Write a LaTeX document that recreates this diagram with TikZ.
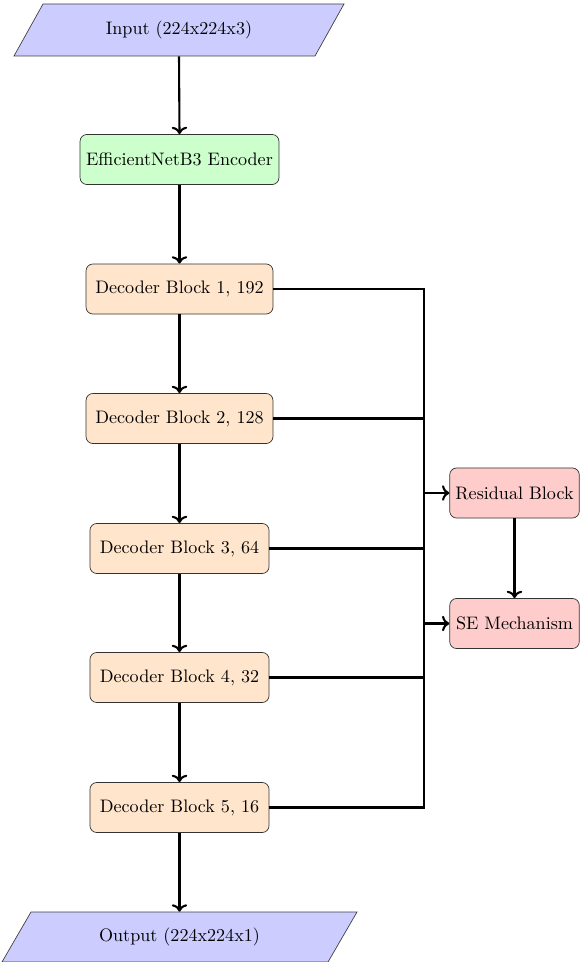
\documentclass[tikz,border=0pt]{standalone}
\usetikzlibrary{arrows.meta}
\begin{document}
\begin{tikzpicture}[x=0.575pt,y=-0.575pt,
  every node/.style={font=\fontsize{10.4}{12.5}\selectfont},
  box/.style={draw=black!80, line width=0.4pt, rounded corners=4pt, minimum height=28.8pt, inner xsep=2pt},
  encbox/.style={box, fill=green!20, minimum width=114.4pt},
  decbox/.style={box, fill=orange!20},
  wide/.style={minimum width=107.5pt},
  narrow/.style={minimum width=103pt},
  modbox/.style={box, fill=red!20, minimum width=74.5pt},
  iofill/.style={draw=black!75, line width=0.4pt, fill=blue!20},
  iotext/.style={inner sep=0pt, minimum height=29pt},
  line/.style={line width=1.2pt},
  arr/.style={line width=1.2pt,->}]
\useasboundingbox (0,0) rectangle (584,962);
% input / output parallelograms
\filldraw[iofill] (43,4) -- (344,4) -- (315,56) -- (14,56) -- cycle;
\node[iotext, minimum height=29.9pt] (in) at (179,30) {Input (224x224x3)};
\filldraw[iofill] (31,912) -- (357,912) -- (328,962) -- (2,962) -- cycle;
\node[iotext, minimum height=28.75pt] (out) at (179.5,937) {Output (224x224x1)};
% boxes
\node[encbox] (enc) at (179.5,159.5) {EfficientNetB3 Encoder};
\node[decbox, wide] (d1) at (179.5,289) {Decoder Block 1, 192};
\node[decbox, wide] (d2) at (179.5,418.5) {Decoder Block 2, 128};
\node[decbox, narrow] (d3) at (179.5,548.5) {Decoder Block 3, 64};
\node[decbox, narrow] (d4) at (179.5,677.5) {Decoder Block 4, 32};
\node[decbox, narrow] (d5) at (179.5,807.5) {Decoder Block 5, 16};
\node[modbox] (res) at (514.5,493) {Residual Block};
\node[modbox] (se) at (514.5,623.5) {SE Mechanism};
% vertical flow
\draw[arr] (in.south) -- (enc.north);
\draw[arr] (enc) -- (d1);
\draw[arr] (d1) -- (d2);
\draw[arr] (d2) -- (d3);
\draw[arr] (d3) -- (d4);
\draw[arr] (d4) -- (d5);
\draw[arr] (d5.south) -- (out.north);
% bus
\coordinate (j1) at (424,289);
\coordinate (j5) at (424,807.5);
\coordinate (jr) at (424,493);
\coordinate (js) at (424,623.5);
\draw[line] (d1.east) -- (j1) -- (j5) -- (d5.east);
\draw[line] (d2.east) -- (d2.east -| j1);
\draw[line] (d3.east) -- (d3.east -| j1);
\draw[line] (d4.east) -- (d4.east -| j1);
\draw[arr] (jr) -- (res.west);
\draw[arr] (js) -- (se.west);
\draw[arr] (res) -- (se);
\end{tikzpicture}
\end{document}
